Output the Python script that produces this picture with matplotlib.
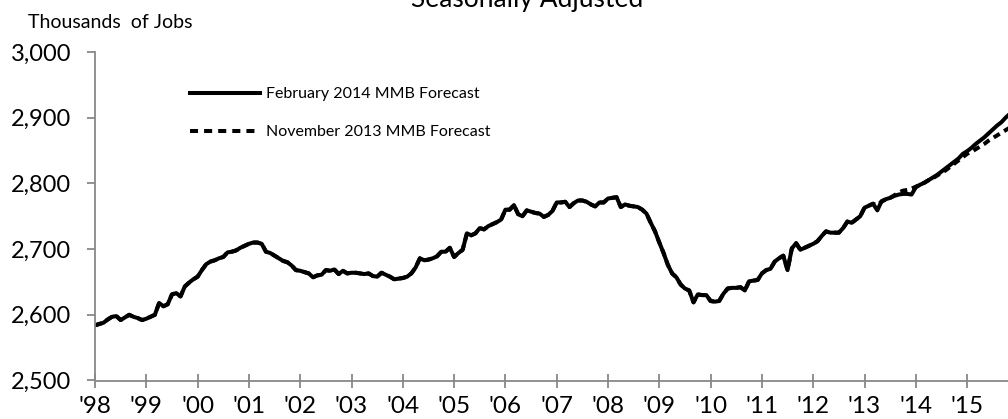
import matplotlib
matplotlib.use("Agg")
import matplotlib.pyplot as plt
import numpy as np
from matplotlib.lines import Line2D

# ---------------- data (thousands of jobs, monthly from Jan 1998) ----------------
start_year = 1998
history = [
    # 1998
    2584, 2586, 2588, 2593, 2597, 2598, 2592, 2596, 2600, 2597, 2595, 2592,
    # 1999
    2594, 2597, 2600, 2618, 2613, 2616, 2631, 2633, 2628, 2643, 2649, 2654,
    # 2000
    2658, 2668, 2677, 2681, 2683, 2686, 2688, 2695, 2696, 2698, 2702, 2705,
    # 2001
    2708, 2710, 2710, 2708, 2696, 2694, 2690, 2686, 2682, 2680, 2675, 2668,
    # 2002
    2667, 2665, 2663, 2657, 2660, 2661, 2668, 2667, 2669, 2662, 2667, 2663,
    # 2003
    2664, 2664, 2663, 2662, 2663, 2659, 2658, 2664, 2661, 2658, 2654, 2655,
    # 2004
    2656, 2658, 2663, 2672, 2686, 2683, 2684, 2686, 2689, 2696, 2696, 2702,
    # 2005
    2688, 2694, 2699, 2724, 2721, 2724, 2732, 2730, 2735, 2738, 2741, 2745,
    # 2006
    2760, 2760, 2767, 2753, 2750, 2759, 2757, 2755, 2754, 2749, 2752, 2758,
    # 2007
    2771, 2771, 2772, 2764, 2770, 2774, 2774, 2772, 2768, 2765, 2771, 2771,
    # 2008
    2777, 2778, 2779, 2764, 2768, 2766, 2765, 2764, 2760, 2754, 2740, 2727,
    # 2009
    2710, 2694, 2676, 2663, 2657, 2646, 2640, 2637, 2619, 2631, 2630, 2630,
    # 2010
    2621, 2620, 2621, 2632, 2640, 2641, 2641, 2642, 2637, 2651, 2652, 2653,
    # 2011
    2663, 2668, 2670, 2681, 2686, 2690, 2668, 2701, 2709, 2699, 2702, 2705,
    # 2012
    2708, 2712, 2720, 2727, 2725, 2725, 2725, 2732, 2742, 2740, 2745, 2750,
]
feb2014_forecast = [
    # 2013
    2763, 2766, 2769, 2759, 2773, 2776, 2778, 2781, 2783, 2784, 2784, 2783,
    # 2014
    2794, 2798, 2801, 2805, 2809, 2813, 2818, 2823, 2828, 2833, 2838, 2845,
    # 2015
    2849, 2854, 2860, 2865, 2870, 2876, 2882, 2888, 2893, 2900, 2906, 2912,
]
nov2013_forecast = [
    # 2013
    2763, 2766, 2769, 2767, 2772, 2776, 2778, 2782, 2786, 2789, 2790, 2792,
    # 2014
    2795, 2798, 2801, 2805, 2808, 2812, 2816, 2820, 2825, 2830, 2835, 2840,
    # 2015
    2845, 2848, 2852, 2856, 2860, 2865, 2869, 2873, 2877, 2881, 2885, 2889,
]
series_labels = ["February 2014 MMB Forecast", "November 2013 MMB Forecast"]
year_labels = ["'98", "'99", "'00", "'01", "'02", "'03", "'04", "'05", "'06",
               "'07", "'08", "'09", "'10", "'11", "'12", "'13", "'14", "'15"]
title = "Seasonally Adjusted"
ylabel = "Thousands  of Jobs"

# ---------------- build series ----------------
feb_vals = np.array(history + feb2014_forecast, dtype=float)
nov_vals = np.array(history + nov2013_forecast, dtype=float)
x_feb = start_year + np.arange(len(feb_vals)) / 12.0
x_nov = start_year + np.arange(len(nov_vals)) / 12.0

plt.rcParams['font.family'] = ['Lato', 'DejaVu Sans']

W, H = 1008, 419
fig = plt.figure(figsize=(W / 100, H / 100), dpi=100)
# axes rectangle in pixels (extends past right edge like the cropped original)
left_px, right_px = 95, 95 + 18 * 51.3
top_px, bottom_px = 52, 380.5
ax = fig.add_axes([left_px / W, (H - bottom_px) / H,
                   (right_px - left_px) / W, (bottom_px - top_px) / H])

grey = "#888888"
lw = 2.9
ax.plot(x_nov, nov_vals, color="black", lw=lw, linestyle=(0, (1.75, 1.25)),
        dash_capstyle="butt", solid_joinstyle="round")
ax.plot(x_feb, feb_vals, color="black", lw=lw,
        solid_joinstyle="round", solid_capstyle="round")

ax.set_xlim(1998, 2016)
ax.set_ylim(2500, 3000)
ax.set_yticks(np.arange(2500, 3001, 100))
ax.set_yticklabels([f"{v:,}" for v in range(2500, 3001, 100)])
ax.set_xticks(np.arange(1998, 2016))
ax.set_xticklabels(year_labels)

for s in ["top", "right"]:
    ax.spines[s].set_visible(False)
for s in ["left", "bottom"]:
    ax.spines[s].set_color(grey)
    ax.spines[s].set_linewidth(1.3)

ax.tick_params(axis="y", direction="out", length=6, width=1.3, color=grey,
               pad=11, labelsize=17, labelcolor="black")
ax.tick_params(axis="x", direction="inout", length=10, width=1.3, color=grey,
               pad=6, labelsize=17.5, labelcolor="black")

# legend
h_feb = Line2D([], [], color="black", lw=lw)
h_nov = Line2D([], [], color="black", lw=lw, linestyle=(0, (2, 1.5)), dash_capstyle="butt")
fs_leg = 11.5
fig.legend([h_feb, h_nov], series_labels, loc="upper left",
           bbox_to_anchor=(190 / W, 1 - 87 / H), frameon=False,
           fontsize=fs_leg, handlelength=70 / (fs_leg * 100 / 72),
           handletextpad=0.4, borderpad=0, borderaxespad=0, labelspacing=1.5)

fig.text(527 / W, 1 - 7 / H, title, ha="center", va="baseline", fontsize=19)
fig.text(28 / W, 1 - 28 / H, ylabel, ha="left", va="baseline", fontsize=14)

fig.savefig("out.png", dpi=100)
